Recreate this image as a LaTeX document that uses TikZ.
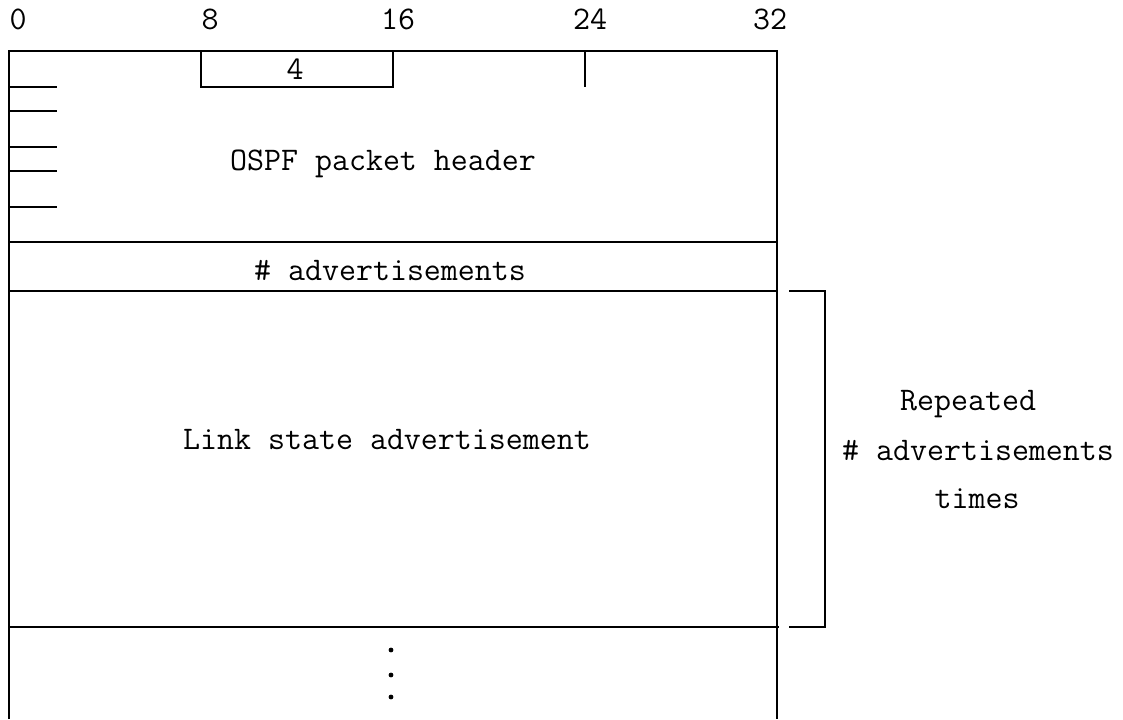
\documentclass[tikz,border=0pt]{standalone}
\begin{document}
\begin{tikzpicture}[x=0.5pt,y=-0.5pt,
  ln/.style={line width=1pt,black},
  txt/.style={inner sep=0pt,font=\ttfamily\fontsize{16.5}{19}\selectfont},
  dotmark/.style={circle,fill=black,inner sep=0pt,minimum size=2.4pt}]
\useasboundingbox (0,0) rectangle (1123,719);
% bit labels
\node[txt] (b0) at (18,19) {0};
\node[txt] (b8) at (210,19) {8};
\node[txt] (b16) at (398,19) {16};
\node[txt] (b24) at (590,19) {24};
\node[txt] (b32) at (770,19) {32};
% frame
\draw[ln] (9,719) -- (9,51) -- (777,51) -- (777,719);
% inner box 4
\draw[ln] (201,51) -- (201,87) -- (393,87) -- (393,51);
\node[txt] (four) at (295,69) {4};
\draw[ln] (585,51) -- (585,87);
% left ticks
\foreach \yy in {87,111,147,171,207} \draw[ln] (9,\yy) -- (57,\yy);
\node[txt] (hdr) at (383,164) {OSPF packet header};
\draw[ln] (9,242) -- (777,242);
\node[txt] (nadv) at (390,271) {\# advertisements};
\draw[ln] (9,291) -- (777,291);
\node[txt] (lsa) at (387,440) {Link state advertisement};
\draw[ln] (9,627) -- (779,627);
% dots
\node[dotmark] (d1) at (391,650) {};
\node[dotmark] (d2) at (391,675) {};
\node[dotmark] (d3) at (391,697) {};
% bracket
\draw[ln] (789,291) -- (825,291) -- (825,627) -- (789,627);
\node[txt] (rep1) at (968,404) {Repeated};
\node[txt] (rep2) at (978,451) {\# advertisements};
\node[txt] (rep3) at (977,499) {times};
\end{tikzpicture}
\end{document}
